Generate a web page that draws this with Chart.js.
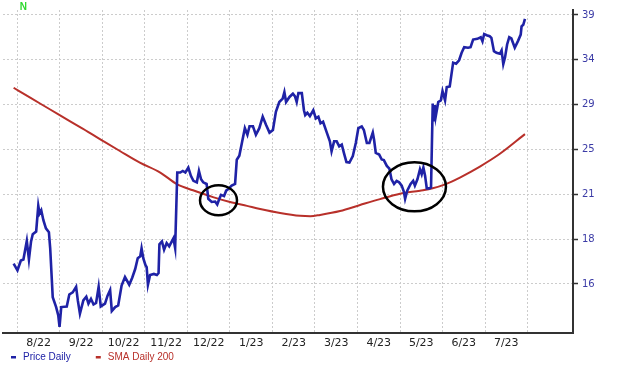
<!DOCTYPE html>
<html>
<head>
<meta charset="utf-8">
<script src="https://cdn.jsdelivr.net/npm/chart.js@4"></script>
<style>
  html, body { margin: 0; padding: 0; background: #fff; }
  #wrap { width: 620px; height: 366px; }
</style>
</head>
<body>
<div id="wrap"><canvas id="grafico" width="620" height="366"></canvas></div>
<script>
// x em meses desde 1/ago/2022 (linhas de grade no inicio de cada mes)
const monthLines = [0, 1, 2, 3, 4, 5, 6, 7, 8, 9, 10, 11, 12];
const monthMids = [0.5, 1.5, 2.5, 3.5, 4.5, 5.5, 6.5, 7.5, 8.5, 9.5, 10.5, 11.5];
const monthLabels = ['8/22', '9/22', '10/22', '11/22', '12/22', '1/23', '2/23', '3/23', '4/23', '5/23', '6/23', '7/23'];

// eixo de preco (log)
const yTickValues = [16, 18.56, 21.53, 24.98, 28.98, 33.62, 39];
const yTickLabels = ['16', '18', '21', '25', '29', '34', '39'];

// Price Daily
const priceMonths = [
  -0.09, 0.00, 0.08, 0.14, 0.22, 0.27, 0.32, 0.36, 0.44, 0.49,
  0.52, 0.56, 0.61, 0.67, 0.74, 0.77, 0.83, 0.91, 0.96, 0.99,
  1.03, 1.16, 1.22, 1.30, 1.38, 1.42, 1.47, 1.55, 1.62, 1.67,
  1.73, 1.79, 1.85, 1.91, 1.96, 2.06, 2.12, 2.18, 2.22, 2.30,
  2.37, 2.45, 2.53, 2.63, 2.70, 2.77, 2.83, 2.89, 2.92, 2.96,
  3.01, 3.04, 3.07, 3.12, 3.21, 3.28, 3.32, 3.34, 3.40, 3.45,
  3.51, 3.57, 3.67, 3.71, 3.76, 3.83, 3.89, 3.95, 4.02, 4.08,
  4.14, 4.22, 4.27, 4.32, 4.37, 4.45, 4.49, 4.57, 4.65, 4.70,
  4.75, 4.79, 4.86, 4.91, 4.96, 5.04, 5.12, 5.16, 5.22, 5.28,
  5.35, 5.41, 5.46, 5.54, 5.61, 5.69, 5.77, 5.85, 5.93, 6.01,
  6.08, 6.16, 6.24, 6.28, 6.32, 6.40, 6.48, 6.53, 6.57, 6.61,
  6.69, 6.74, 6.77, 6.82, 6.88, 6.96, 7.02, 7.08, 7.13, 7.19,
  7.27, 7.35, 7.39, 7.45, 7.51, 7.57, 7.63, 7.68, 7.74, 7.81,
  7.89, 7.96, 8.02, 8.10, 8.15, 8.22, 8.28, 8.36, 8.39, 8.43,
  8.51, 8.57, 8.62, 8.69, 8.75, 8.80, 8.86, 8.92, 8.98, 9.04,
  9.09, 9.12, 9.17, 9.25, 9.31, 9.35, 9.41, 9.47, 9.51, 9.55,
  9.59, 9.63, 9.69, 9.73, 9.77, 9.79, 9.82, 9.84, 9.90, 9.96,
  10.00, 10.06, 10.10, 10.17, 10.25, 10.32, 10.39, 10.45, 10.51, 10.60,
  10.66, 10.72, 10.82, 10.90, 10.94, 10.98, 11.04, 11.11, 11.15, 11.21,
  11.27, 11.35, 11.39, 11.43, 11.47, 11.52, 11.57, 11.62, 11.70, 11.78,
  11.84, 11.86, 11.90, 11.94
];
const priceValues = [
  17.11, 16.74, 17.29, 17.35, 18.45, 17.35, 18.42, 18.86, 19.03, 20.72,
  20.20, 20.42, 19.76, 19.23, 18.99, 18.02, 15.31, 14.82, 14.42, 13.88,
  14.82, 14.85, 15.45, 15.56, 15.85, 15.15, 14.50, 15.15, 15.34, 14.99,
  15.23, 14.95, 15.02, 15.85, 14.85, 14.99, 15.39, 15.68, 14.63, 14.82,
  14.90, 15.91, 16.37, 15.96, 16.33, 16.81, 17.42, 17.54, 18.00, 17.42,
  17.04, 16.92, 15.96, 16.48, 16.54, 16.48, 16.59, 18.24, 18.42, 17.92,
  18.32, 18.12, 18.61, 18.02, 23.14, 23.14, 23.26, 23.14, 23.52, 22.89,
  22.51, 22.40, 23.26, 22.63, 22.40, 22.28, 21.21, 20.99, 21.02, 20.81,
  21.21, 21.49, 21.40, 21.79, 21.91, 22.16, 22.28, 24.14, 24.46, 25.52,
  26.80, 26.22, 26.97, 26.97, 26.22, 26.80, 27.84, 27.09, 26.41, 26.64,
  28.29, 29.23, 29.55, 30.20, 29.23, 29.72, 30.04, 29.78, 29.23, 30.10,
  30.10, 28.44, 27.99, 28.20, 27.89, 28.44, 27.68, 27.84, 27.24, 27.38,
  26.50, 25.66, 24.83, 25.66, 25.66, 25.24, 25.38, 24.70, 23.95, 23.91,
  24.43, 25.52, 26.80, 26.95, 26.64, 25.52, 25.52, 26.41, 25.79, 24.70,
  24.56, 24.16, 24.11, 23.65, 23.44, 22.63, 22.28, 22.51, 22.40, 22.16,
  21.72, 21.21, 21.79, 22.28, 22.51, 22.16, 22.63, 23.39, 23.01, 23.52,
  22.89, 21.96, 21.96, 22.03, 29.08, 27.41, 28.92, 27.86, 29.23, 29.38,
  30.30, 29.38, 30.70, 30.77, 33.30, 33.19, 33.56, 34.40, 35.05, 34.98,
  35.05, 35.94, 36.03, 36.22, 35.74, 36.61, 36.46, 36.34, 36.15, 34.59,
  34.40, 34.29, 34.67, 33.13, 33.86, 35.36, 36.22, 36.07, 34.98, 35.82,
  36.54, 37.54, 37.75, 38.49
];

// SMA Daily 200
const smaMonths = [-0.09, 0.30, 0.77, 1.24, 1.71, 2.06, 2.41, 2.88, 3.36, 3.76,
  4.13, 4.60, 5.00, 5.40, 5.71, 6.18, 6.65, 6.89, 7.12, 7.59,
  8.06, 8.53, 9.00, 9.47, 9.77, 10.06, 10.41, 10.88, 11.35, 11.94];
const smaValues = [30.64, 29.65, 28.51, 27.41, 26.37, 25.59, 24.85, 23.91, 23.14, 22.25,
  21.82, 21.33, 20.99, 20.72, 20.51, 20.24, 20.05, 20.02, 20.11, 20.37,
  20.78, 21.19, 21.57, 21.79, 21.96, 22.25, 22.76, 23.60, 24.62, 26.28];

// marcacoes (centro em mes / preco)
const circleMonths = [4.73, 9.34];
const circlePrices = [21.11, 22.07];
const markerMonth = 0.14;

const corPreco = '#1f22a6';
const corSma = '#b8302a';

// Legenda desenhada embaixo
const legendaPlugin = {
  id: 'legenda',
  afterDraw(chart) {
    const ctx = chart.ctx;
    ctx.save();
    ctx.font = '10px "Liberation Sans", Arial, sans-serif';
    ctx.textBaseline = 'middle';
    let x = 11;
    const y = 357;
    chart.data.datasets.forEach(ds => {
      ctx.fillStyle = ds.borderColor;
      ctx.fillRect(x, y - 1, 5, 2.5);
      ctx.fillText(ds.label, x + 12, y);
      x += 12 + ctx.measureText(ds.label).width + 25;
    });
    ctx.restore();
  }
};

// Elipses e marcador N
const marcasPlugin = {
  id: 'marcas',
  afterDatasetsDraw(chart) {
    const ctx = chart.ctx;
    const sx = chart.scales.x;
    const sy = chart.scales.y;
    const raios = [[18.5, 15], [31.5, 24.5]];
    ctx.save();
    ctx.strokeStyle = '#000';
    ctx.lineWidth = 2.5;
    circleMonths.forEach((m, i) => {
      ctx.beginPath();
      ctx.ellipse(sx.getPixelForValue(m), sy.getPixelForValue(circlePrices[i]), raios[i][0], raios[i][1], 0, 0, Math.PI * 2);
      ctx.stroke();
    });
    ctx.fillStyle = '#2ed82e';
    ctx.font = 'bold 10px "Liberation Sans", Arial, sans-serif';
    ctx.textAlign = 'center';
    ctx.textBaseline = 'middle';
    ctx.fillText('N', sx.getPixelForValue(markerMonth), 7);
    ctx.restore();
  }
};

const ctx = document.getElementById('grafico').getContext('2d');
new Chart(ctx, {
  type: 'line',
  data: {
    datasets: [
      {
        label: 'Price Daily',
        data: priceMonths.map((m, i) => ({ x: m, y: priceValues[i] })),
        borderColor: corPreco,
        borderWidth: 2.6,
        pointRadius: 0,
        tension: 0,
        xAxisID: 'x',
        yAxisID: 'y'
      },
      {
        label: 'SMA Daily 200',
        data: smaMonths.map((m, i) => ({ x: m, y: smaValues[i] })),
        borderColor: corSma,
        borderWidth: 2,
        pointRadius: 0,
        cubicInterpolationMode: 'monotone',
        xAxisID: 'x',
        yAxisID: 'y'
      }
    ]
  },
  options: {
    responsive: false,
    animation: false,
    devicePixelRatio: 1,
    layout: { padding: { left: 3, right: 0, top: 5, bottom: 15 } },
    plugins: {
      legend: { display: false },
      tooltip: { enabled: false }
    },
    scales: {
      x: {
        type: 'linear',
        position: 'bottom',
        weight: 0,
        min: -0.34,
        max: 13.07,
        afterBuildTicks: s => { s.ticks = monthLines.map(v => ({ value: v })); },
        afterFit: s => { s.height = 0; },
        ticks: { display: false },
        grid: { color: '#cccccc', lineWidth: 1, drawTicks: false },
        border: { color: '#333', width: 2, dash: [2, 2] }
      },
      x2: {
        type: 'linear',
        position: 'bottom',
        weight: 1,
        min: -0.34,
        max: 13.07,
        afterBuildTicks: s => { s.ticks = monthMids.map(v => ({ value: v })); },
        afterFit: s => { s.height = 18; },
        ticks: {
          callback: (v, i) => monthLabels[i],
          color: '#222',
          font: { family: 'DejaVu Sans', size: 11 },
          padding: 4,
          autoSkip: false,
          maxRotation: 0
        },
        grid: { display: false, drawTicks: false },
        border: { display: false }
      },
      y: {
        type: 'logarithmic',
        position: 'right',
        min: 13.6,
        max: 39.64,
        afterBuildTicks: s => { s.ticks = yTickValues.map(v => ({ value: v })); },
        afterFit: s => { s.width = 47; },
        ticks: {
          callback: (v, i) => yTickLabels[i],
          color: '#3b3ba6',
          font: { family: 'DejaVu Sans', size: 10 },
          padding: 4,
          autoSkip: false
        },
        grid: { color: '#cccccc', lineWidth: 1, tickLength: 5, tickColor: '#333', tickWidth: 1.5, tickBorderDash: [] },
        border: { color: '#333', width: 2, dash: [2, 2] }
      }
    }
  },
  plugins: [legendaPlugin, marcasPlugin]
});
</script>
</body>
</html>
